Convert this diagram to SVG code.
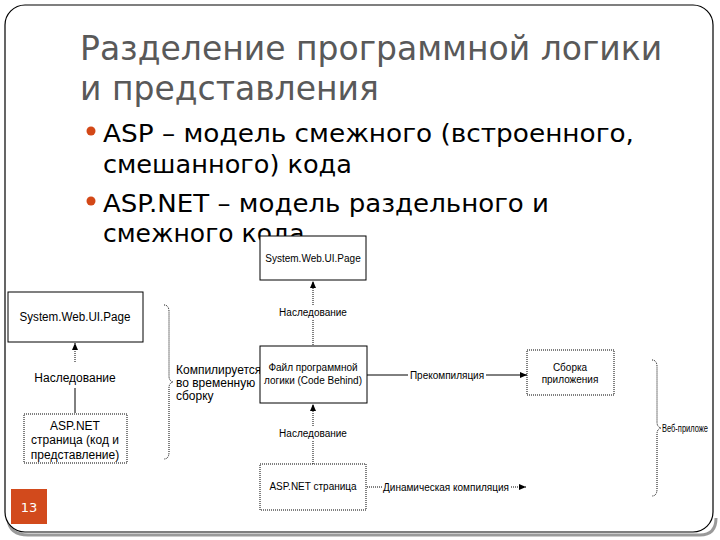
<svg xmlns="http://www.w3.org/2000/svg" width="720" height="540" viewBox="0 0 720 540">
<defs>
<style>
.title{font-family:"DejaVu Sans","Noto Sans",sans-serif;font-size:33px;fill:#595959}
.bul{font-family:"DejaVu Sans","Noto Sans",sans-serif;font-size:25px;fill:#000}
.lbl{font-family:"Liberation Sans",Arial,sans-serif;font-size:10px;fill:#000}
.lbl2{font-family:"Liberation Sans",Arial,sans-serif;font-size:12px;fill:#000}
.box{fill:#fff;stroke:#000;stroke-width:1}
.dbox{fill:#fff;stroke:#000;stroke-width:1;stroke-dasharray:1 1}
.ln{fill:none;stroke:#000;stroke-width:1}
.dl{fill:none;stroke:#000;stroke-width:1;stroke-dasharray:1 1}
.lb{fill:#fff}
</style>
<marker id="ah" markerWidth="8" markerHeight="8" refX="7" refY="4" orient="auto" markerUnits="userSpaceOnUse">
<path d="M0,1 L7,4 L0,7 Z" fill="#000"/>
</marker>
<clipPath id="slide"><rect x="5" y="5" width="708" height="527" rx="20"/></clipPath>
</defs>
<rect width="720" height="540" fill="#fff"/>
<path d="M8,520 Q10,535 28,535 L700,535 Q716,535 716,518" fill="none" stroke="#9a9a9a" stroke-width="3"/>
<rect x="5" y="5" width="708" height="527" rx="20" fill="#fff" stroke="#000" stroke-width="1.2"/>
<g id="title">
<text class="title" x="80" y="60">Разделение программной логики</text>
<text class="title" x="80" y="100">и представления</text>
</g>
<g id="bullets">
<circle cx="91" cy="131" r="4.5" fill="#D34817"/>
<text class="bul" x="103" y="142" textLength="531" lengthAdjust="spacingAndGlyphs">ASP – модель смежного (встроенного,</text>
<text class="bul" x="103" y="173" textLength="249" lengthAdjust="spacingAndGlyphs">смешанного) кода</text>
<circle cx="91" cy="201" r="4.5" fill="#D34817"/>
<text class="bul" x="103" y="212" textLength="446" lengthAdjust="spacingAndGlyphs">ASP.NET – модель раздельного и</text>
<text class="bul" x="103" y="242">смежного кода</text>
</g>
<g clip-path="url(#slide)">
<g id="connectors">
<line class="dl" x1="75" y1="362" x2="75" y2="343" marker-end="url(#ah)"/>
<line class="ln" x1="75" y1="388" x2="75" y2="413"/>
<rect class="lb" x="30" y="370" width="90" height="16"/>
<text class="lbl2" x="75" y="382" text-anchor="middle">Наследование</text>
<line class="dl" x1="313" y1="345" x2="313" y2="281" marker-end="url(#ah)"/>
<rect class="lb" x="276" y="306" width="74" height="13"/>
<text class="lbl" x="313" y="316" text-anchor="middle">Наследование</text>
<line class="dl" x1="313" y1="464" x2="313" y2="404" marker-end="url(#ah)"/>
<rect class="lb" x="276" y="427" width="74" height="13"/>
<text class="lbl" x="313" y="437" text-anchor="middle">Наследование</text>
<line class="ln" x1="367" y1="375" x2="527" y2="375" marker-end="url(#ah)"/>
<rect class="lb" x="408" y="369" width="78" height="12"/>
<text class="lbl" x="447" y="379" text-anchor="middle">Прекомпиляция</text>
<line class="dl" x1="367" y1="487" x2="526" y2="487" marker-end="url(#ah)"/>
<rect class="lb" x="382" y="481" width="128" height="12"/>
<text class="lbl" x="446" y="491" text-anchor="middle">Динамическая компиляция</text>
<path class="dl" d="M164,305 Q169,305 169,312 L169,376 Q169,381 173,382 Q169,383 169,388 L169,452 Q169,459 164,459"/>
<path class="dl" d="M652,360 Q657,360 657,367 L657,422 Q657,427 661,428 Q657,429 657,434 L657,489 Q657,496 652,496"/>
</g>
<g id="n1">
<rect class="box" x="8" y="292" width="135" height="50"/>
<text class="lbl2" x="75" y="321" text-anchor="middle" textLength="111" lengthAdjust="spacingAndGlyphs">System.Web.UI.Page</text>
</g>
<g id="n2">
<rect class="dbox" x="24" y="414" width="103" height="49"/>
<text class="lbl2" x="75" y="430" text-anchor="middle">ASP.NET</text>
<text class="lbl2" x="75" y="444" text-anchor="middle">страница (код и</text>
<text class="lbl2" x="75" y="459" text-anchor="middle">представление)</text>
</g>
<g id="n3">
<text class="lbl2" x="176" y="374">Компилируется</text>
<text class="lbl2" x="176" y="387">во временную</text>
<text class="lbl2" x="176" y="400">сборку</text>
</g>
<g id="n4">
<rect class="box" x="260" y="236" width="106" height="44"/>
<text class="lbl" x="313" y="262" text-anchor="middle">System.Web.UI.Page</text>
</g>
<g id="n5">
<rect class="box" x="260" y="346" width="107" height="57"/>
<text class="lbl" x="313" y="371" text-anchor="middle">Файл программной</text>
<text class="lbl" x="313" y="384" text-anchor="middle">логики (Code Behind)</text>
</g>
<g id="n6">
<rect class="dbox" x="527" y="350" width="87" height="45"/>
<text class="lbl" x="570" y="371" text-anchor="middle">Сборка</text>
<text class="lbl" x="570" y="383" text-anchor="middle">приложения</text>
</g>
<g id="n7">
<rect class="dbox" x="260" y="464" width="106" height="46"/>
<text class="lbl" x="313" y="490" text-anchor="middle">ASP.NET страница</text>
</g>
</g>
<g id="n8">
<text class="lbl" x="662" y="432" textLength="46" lengthAdjust="spacingAndGlyphs">Веб-приложе</text>
</g>
<g id="pagenum">
<rect x="11" y="489" width="36" height="35" fill="#D24A1C"/>
<text x="29" y="512" text-anchor="middle" font-family="DejaVu Sans,sans-serif" font-size="13" fill="#fff">13</text>
</g>
</svg>
